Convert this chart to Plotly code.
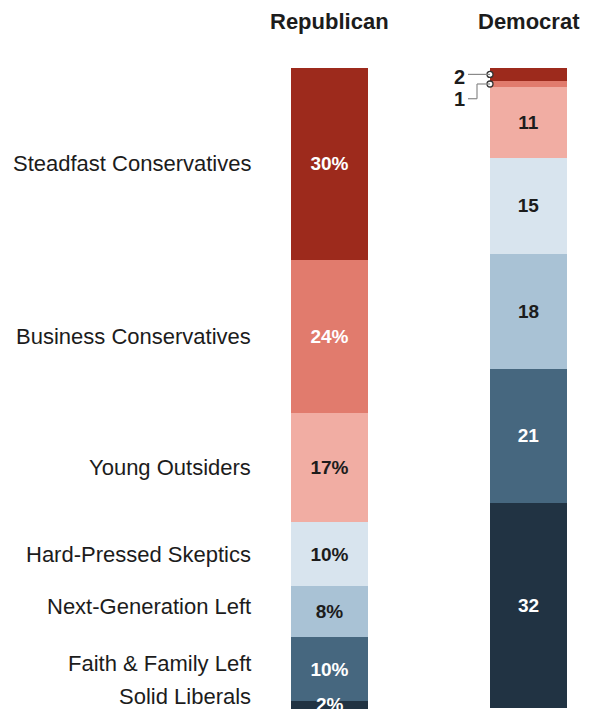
import plotly.graph_objects as go

# ---- data ----
groups = ["Republican", "Democrat"]
typology = ["Steadfast Conservatives", "Business Conservatives", "Young Outsiders",
            "Hard-Pressed Skeptics", "Next-Generation Left", "Faith & Family Left",
            "Solid Liberals"]
rep_values = [30, 24, 17, 10, 8, 10, 2]
dem_values = [2, 1, 11, 15, 18, 21, 32]
colors = ["#9d2a1c", "#e17b6d", "#f1ada3", "#d8e4ee", "#a9c2d5", "#46677f", "#213343"]
text_colors = ["white", "white", "#1c1c1c", "#1c1c1c", "#1c1c1c", "white", "white"]

# ---- layout constants ----
W, H = 590, 709
px_per_unit = 199.0          # pixels between the two bar centers
rep_center_px = 329.5
bar_w = 77 / px_per_unit
x_lo = -rep_center_px / px_per_unit
x_hi = (W - rep_center_px) / px_per_unit
y_max = 100.2
FONT = "Liberation Sans, Arial, sans-serif"
off = lambda p: p / px_per_unit

fig = go.Figure()
for i, name in enumerate(typology):
    rv, dv = rep_values[i], dem_values[i]
    fig.add_trace(go.Bar(
        x=[0, 1], y=[rv, dv], width=[bar_w, bar_w], name=name,
        marker=dict(color=colors[i], line=dict(width=0)),
        text=[(f"{rv}%" if rv >= 5 else ""), (str(dv) if dv >= 5 else "")],
        textposition="inside", insidetextanchor="middle", textangle=0,
        constraintext="none",
        textfont=dict(family=FONT, size=19, color=text_colors[i], weight="bold"),
        hoverinfo="skip", showlegend=False,
    ))

annotations = []
# category labels on the left, centred on republican segments
shifts = [0, 0, 0, 0, 5, 6, 11]
label_x = off(253 - rep_center_px)
cum = 0
for i, name in enumerate(typology):
    center = cum + rep_values[i] / 2
    cum += rep_values[i]
    annotations.append(dict(
        x=label_x, y=center, xref="x", yref="y", text=name, showarrow=False,
        xanchor="right", yanchor="middle", yshift=shifts[i],
        font=dict(family=FONT, size=22, color="#1c1c1c")))
    if rep_values[i] < 5:
        # value label for a thin republican segment (partly cut at the bottom edge)
        annotations.append(dict(
            x=0, y=center, xref="x", yref="y", text=f"<b>{rep_values[i]}%</b>",
            showarrow=False, xanchor="center", yanchor="middle", yshift=3,
            font=dict(family=FONT, size=19, color=text_colors[i])))

# group titles
for gi, g in enumerate(groups):
    annotations.append(dict(
        x=gi, y=1, xref="x", yref="paper", yshift=32, text=f"<b>{g}</b>",
        showarrow=False, xanchor="center", yanchor="bottom",
        font=dict(family=FONT, size=22, color="#1c1c1c")))

# small democratic segments labelled outside with leader lines
edge = 1 - bar_w / 2
d_c0 = dem_values[0] / 2
d_c1 = dem_values[0] + dem_values[1] / 2
label_y1 = 4.8
annotations.append(dict(x=edge - off(23), y=d_c0, xref="x", yref="y", text=f"<b>{dem_values[0]}</b>",
                        showarrow=False, xanchor="right", yanchor="middle", yshift=-3,
                        font=dict(family=FONT, size=20, color="#1c1c1c")))
annotations.append(dict(x=edge - off(23), y=label_y1, xref="x", yref="y", text=f"<b>{dem_values[1]}</b>",
                        showarrow=False, xanchor="right", yanchor="middle",
                        font=dict(family=FONT, size=20, color="#1c1c1c")))
line_style = dict(color="#8a8a8a", width=1.2)
shapes = [
    dict(type="line", xref="x", yref="y", x0=edge - off(22), x1=edge, y0=d_c0, y1=d_c0,
         line=line_style),
    dict(type="line", xref="x", yref="y", x0=edge - off(22), x1=edge - off(13),
         y0=label_y1, y1=label_y1, line=line_style),
    dict(type="line", xref="x", yref="y", x0=edge - off(13), x1=edge - off(13),
         y0=label_y1, y1=d_c1, line=line_style),
    dict(type="line", xref="x", yref="y", x0=edge - off(13), x1=edge,
         y0=d_c1, y1=d_c1, line=line_style),
]
fig.add_trace(go.Scatter(
    x=[edge, edge], y=[d_c0, d_c1], mode="markers",
    marker=dict(symbol="circle", size=6, color="white", line=dict(color="#333", width=1.3)),
    hoverinfo="skip", showlegend=False, cliponaxis=False))

fig.update_layout(
    barmode="stack", width=W, height=H,
    margin=dict(l=0, r=0, t=68, b=0),
    paper_bgcolor="white", plot_bgcolor="white",
    xaxis=dict(range=[x_lo, x_hi], visible=False, fixedrange=True),
    yaxis=dict(range=[y_max, 0], visible=False, fixedrange=True),
    annotations=annotations, shapes=shapes,
)
fig.write_html("out.html", post_script="document.body.style.margin='0';",
               config={"displayModeBar": False})
